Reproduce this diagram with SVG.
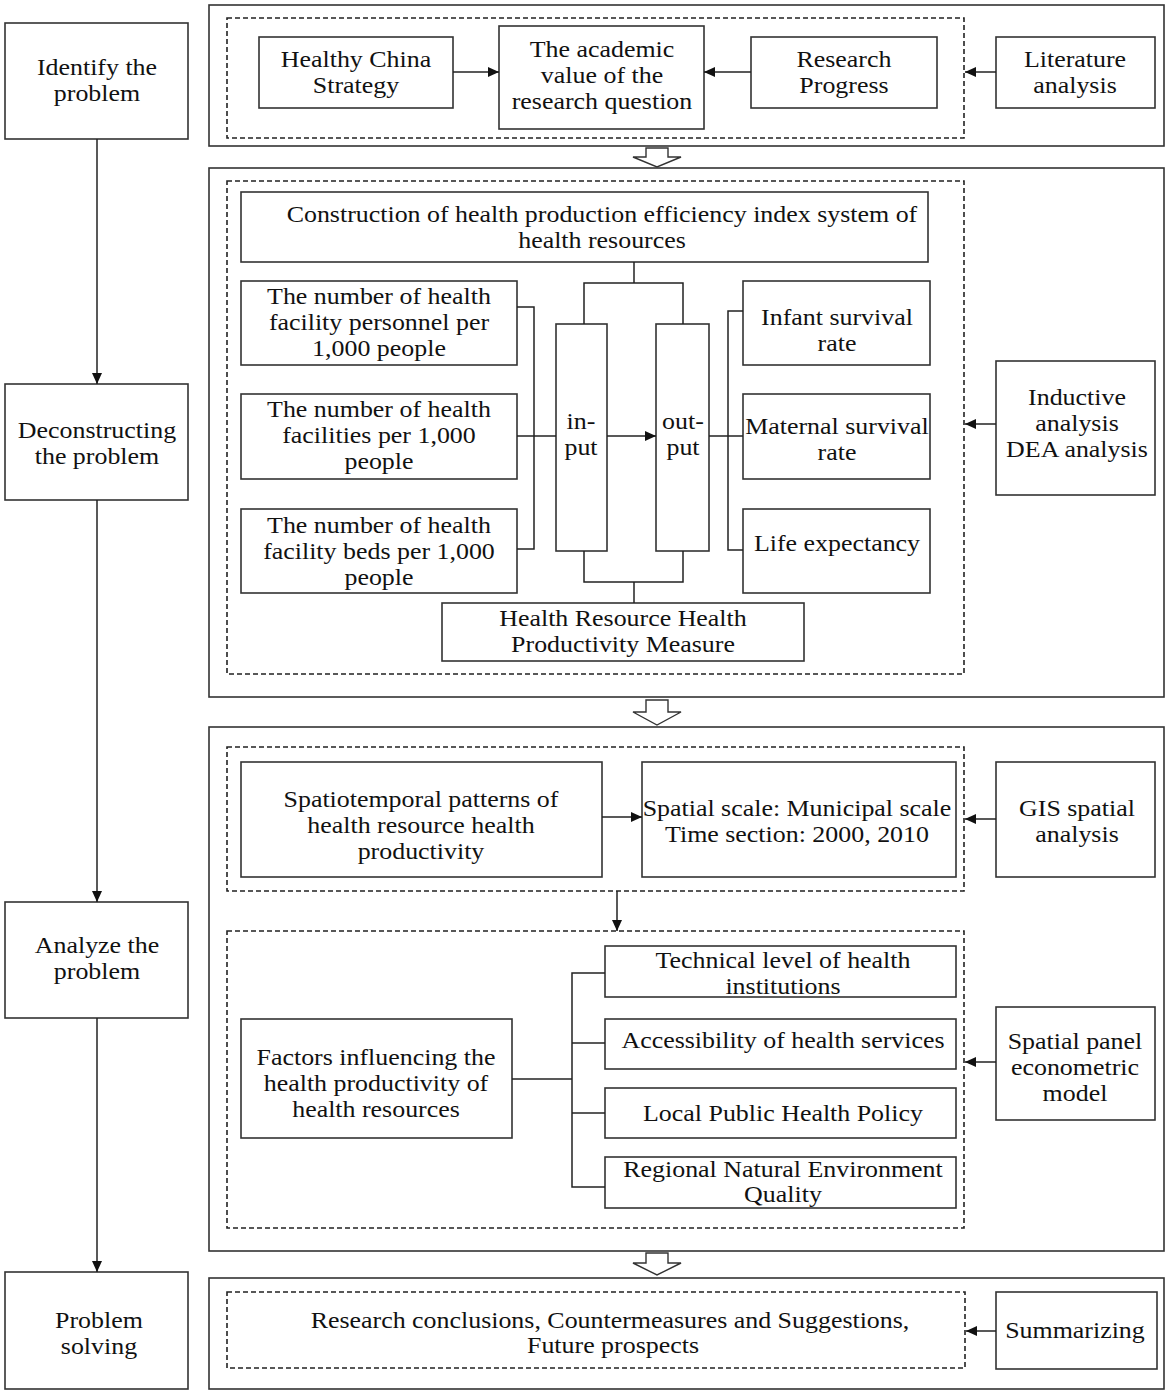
<svg xmlns="http://www.w3.org/2000/svg" width="1170" height="1395" viewBox="0 0 1170 1395">
<style>
.box{fill:#fff;stroke:#333;stroke-width:1.6}
.dash{fill:none;stroke:#222;stroke-width:1.6;stroke-dasharray:5,3}
.ln{fill:none;stroke:#222;stroke-width:1.5}
.hollow{fill:#fff;stroke:#333;stroke-width:1.4}
text{font-family:"Liberation Serif","Times New Roman",serif;font-size:24px;fill:#111;text-anchor:middle;transform-box:fill-box;transform-origin:center;transform:scaleX(1.08)}
</style>
<defs>
<marker id="ah" markerUnits="userSpaceOnUse" markerWidth="11" markerHeight="10" refX="11" refY="5" orient="auto">
<path d="M0,0 L11,5 L0,10 z" fill="#111"/>
</marker>
</defs>
<rect width="1170" height="1395" fill="#fff"/>

<!-- stage boxes -->
<g id="stage1"><rect class="box" x="5" y="23" width="183" height="116"/><text x="97" y="75">Identify the</text><text x="97" y="101">problem</text></g>
<g id="stage2"><rect class="box" x="5" y="384" width="183" height="116"/><text x="97" y="438">Deconstructing</text><text x="97" y="464">the problem</text></g>
<g id="stage3"><rect class="box" x="5" y="902" width="183" height="116"/><text x="97" y="953">Analyze the</text><text x="97" y="979">problem</text></g>
<g id="stage4"><rect class="box" x="5" y="1272" width="183" height="117"/><text x="99" y="1328">Problem</text><text x="99" y="1354">solving</text></g>

<!-- outer panels -->
<g id="panel1"><rect class="box" x="209" y="5" width="955" height="141"/><rect class="dash" x="227" y="18" width="737" height="120"/></g>
<g id="panel2"><rect class="box" x="209" y="168" width="955" height="529"/><rect class="dash" x="227" y="181" width="737" height="493"/></g>
<g id="panel3"><rect class="box" x="209" y="727" width="955" height="524"/><rect class="dash" x="227" y="747" width="737" height="144"/><rect class="dash" x="227" y="931" width="737" height="297"/></g>
<g id="panel4"><rect class="box" x="209" y="1278" width="955" height="111"/><rect class="dash" x="227" y="1292" width="738" height="76"/></g>

<!-- panel 1 nodes -->
<g id="healthy-china"><rect class="box" x="259" y="37" width="194" height="71"/><text x="356" y="67">Healthy China</text><text x="356" y="93">Strategy</text></g>
<g id="academic-value"><rect class="box" x="499" y="26" width="205" height="103"/><text x="602" y="57">The academic</text><text x="602" y="83">value of the</text><text x="602" y="109">research question</text></g>
<g id="research-progress"><rect class="box" x="751" y="37" width="186" height="71"/><text x="844" y="67">Research</text><text x="844" y="93">Progress</text></g>
<g id="literature"><rect class="box" x="996" y="37" width="159" height="71"/><text x="1075" y="67">Literature</text><text x="1075" y="93">analysis</text></g>

<!-- panel 2 nodes -->
<g id="construction"><rect class="box" x="241" y="192" width="687" height="70"/><text x="602" y="222">Construction of health production efficiency index system of</text><text x="602" y="248">health resources</text></g>
<g id="personnel"><rect class="box" x="241" y="281" width="276" height="84"/><text x="379" y="304">The number of health</text><text x="379" y="330">facility personnel per</text><text x="379" y="356">1,000 people</text></g>
<g id="facilities"><rect class="box" x="241" y="394" width="276" height="85"/><text x="379" y="417">The number of health</text><text x="379" y="443">facilities per 1,000</text><text x="379" y="469">people</text></g>
<g id="beds"><rect class="box" x="241" y="509" width="276" height="84"/><text x="379" y="533">The number of health</text><text x="379" y="559">facility beds per 1,000</text><text x="379" y="585">people</text></g>
<g id="input"><rect class="box" x="556" y="324" width="51" height="227"/><text x="581" y="429">in-</text><text x="581" y="455">put</text></g>
<g id="output"><rect class="box" x="656" y="324" width="53" height="227"/><text x="683" y="429">out-</text><text x="683" y="455">put</text></g>
<g id="infant"><rect class="box" x="743" y="281" width="187" height="84"/><text x="837" y="325">Infant survival</text><text x="837" y="351">rate</text></g>
<g id="maternal"><rect class="box" x="743" y="394" width="187" height="85"/><text x="837" y="434">Maternal survival</text><text x="837" y="460">rate</text></g>
<g id="life"><rect class="box" x="743" y="509" width="187" height="84"/><text x="837" y="551">Life expectancy</text></g>
<g id="measure"><rect class="box" x="442" y="603" width="362" height="58"/><text x="623" y="626">Health Resource Health</text><text x="623" y="652">Productivity Measure</text></g>
<g id="inductive"><rect class="box" x="996" y="361" width="159" height="134"/><text x="1077" y="405">Inductive</text><text x="1077" y="431">analysis</text><text x="1077" y="457">DEA analysis</text></g>

<!-- panel 3 nodes -->
<g id="spatiotemporal"><rect class="box" x="241" y="762" width="361" height="115"/><text x="421" y="807">Spatiotemporal patterns of</text><text x="421" y="833">health resource health</text><text x="421" y="859">productivity</text></g>
<g id="spatial-scale"><rect class="box" x="642" y="762" width="314" height="115"/><text x="797" y="816">Spatial scale: Municipal scale</text><text x="797" y="842">Time section: 2000, 2010</text></g>
<g id="gis"><rect class="box" x="996" y="762" width="159" height="115"/><text x="1077" y="816">GIS spatial</text><text x="1077" y="842">analysis</text></g>
<g id="factors"><rect class="box" x="241" y="1019" width="271" height="119"/><text x="376" y="1065">Factors influencing the</text><text x="376" y="1091">health productivity of</text><text x="376" y="1117">health resources</text></g>
<g id="technical"><rect class="box" x="605" y="946" width="351" height="51"/><text x="783" y="968">Technical level of health</text><text x="783" y="994">institutions</text></g>
<g id="accessibility"><rect class="box" x="605" y="1019" width="351" height="50"/><text x="783" y="1048">Accessibility of health services</text></g>
<g id="policy"><rect class="box" x="605" y="1088" width="351" height="50"/><text x="783" y="1121">Local Public Health Policy</text></g>
<g id="environment"><rect class="box" x="605" y="1157" width="351" height="51"/><text x="783" y="1177">Regional Natural Environment</text><text x="783" y="1202">Quality</text></g>
<g id="spatial-panel"><rect class="box" x="996" y="1007" width="159" height="113"/><text x="1075" y="1049">Spatial panel</text><text x="1075" y="1075">econometric</text><text x="1075" y="1101">model</text></g>

<!-- panel 4 nodes -->
<g id="conclusions"><text x="610" y="1328">Research conclusions, Countermeasures and Suggestions,</text><text x="613" y="1353">Future prospects</text></g>
<g id="summarizing"><rect class="box" x="996" y="1292" width="161" height="77"/><text x="1075" y="1338">Summarizing</text></g>

<!-- connectors -->
<g id="connectors">
<line class="ln" x1="97" y1="139" x2="97" y2="384" marker-end="url(#ah)"/>
<line class="ln" x1="97" y1="500" x2="97" y2="902" marker-end="url(#ah)"/>
<line class="ln" x1="97" y1="1018" x2="97" y2="1272" marker-end="url(#ah)"/>

<line class="ln" x1="453" y1="72" x2="499" y2="72" marker-end="url(#ah)"/>
<line class="ln" x1="751" y1="72" x2="704" y2="72" marker-end="url(#ah)"/>
<line class="ln" x1="996" y1="72" x2="965" y2="72" marker-end="url(#ah)"/>

<polyline class="ln" points="634,262 634,283"/>
<polyline class="ln" points="584,324 584,283 683,283 683,324"/>
<polyline class="ln" points="584,551 584,582 683,582 683,551"/>
<polyline class="ln" points="634,582 634,603"/>
<polyline class="ln" points="517,307 534,307 534,549 517,549"/>
<line class="ln" x1="517" y1="436" x2="556" y2="436"/>
<line class="ln" x1="607" y1="436" x2="656" y2="436" marker-end="url(#ah)"/>
<line class="ln" x1="709" y1="436" x2="743" y2="436"/>
<polyline class="ln" points="743,311 728,311 728,550 743,550"/>
<line class="ln" x1="996" y1="424" x2="965" y2="424" marker-end="url(#ah)"/>

<line class="ln" x1="602" y1="817" x2="642" y2="817" marker-end="url(#ah)"/>
<line class="ln" x1="996" y1="819" x2="965" y2="819" marker-end="url(#ah)"/>
<line class="ln" x1="617" y1="891" x2="617" y2="931" marker-end="url(#ah)"/>
<line class="ln" x1="512" y1="1079" x2="572" y2="1079"/>
<polyline class="ln" points="605,973 572,973 572,1187 605,1187"/>
<line class="ln" x1="572" y1="1043" x2="605" y2="1043"/>
<line class="ln" x1="572" y1="1113" x2="605" y2="1113"/>
<line class="ln" x1="996" y1="1062" x2="965" y2="1062" marker-end="url(#ah)"/>

<line class="ln" x1="996" y1="1331" x2="966" y2="1331" marker-end="url(#ah)"/>

<polygon class="hollow" points="646,148 668,148 668,157 681,157 657,167 633,157 646,157"/>
<polygon class="hollow" points="646,700 668,700 668,712 681,712 657,725 633,712 646,712"/>
<polygon class="hollow" points="646,1253 668,1253 668,1263 681,1263 657,1275 633,1263 646,1263"/>
</g>
</svg>
